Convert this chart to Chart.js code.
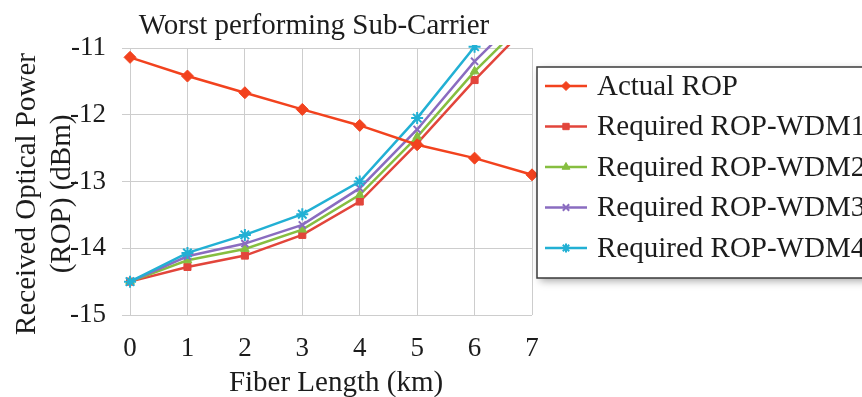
<!DOCTYPE html>
<html><head><meta charset="utf-8">
<script src="https://cdn.jsdelivr.net/npm/chart.js@4.4.1/dist/chart.umd.min.js"></script>
<style>html,body{margin:0;padding:0;background:#fff;overflow:hidden}#wrap{width:862px;height:397px;position:relative}</style>
</head><body><div id="wrap"><canvas id="c" width="862" height="397"></canvas></div>
<script>
// ---- data ----
const fiberLength = [0, 1, 2, 3, 4, 5, 6, 7];
const xTickValues = [0, 1, 2, 3, 4, 5, 6, 7];
const yTickValues = [-15, -14, -13, -12, -11];
const seriesLabels = ['Actual ROP', 'Required ROP-WDM1', 'Required ROP-WDM2', 'Required ROP-WDM3', 'Required ROP-WDM4'];
const actualROP = [-11.14, -11.42, -11.67, -11.92, -12.16, -12.45, -12.65, -12.9];
const requiredWDM1 = [-14.5, -14.28, -14.11, -13.8, -13.3, -12.43, -11.48, -10.6];
const requiredWDM2 = [-14.5, -14.18, -14.01, -13.72, -13.2, -12.33, -11.35, -10.5];
const requiredWDM3 = [-14.5, -14.12, -13.93, -13.65, -13.1, -12.22, -11.2, -10.35];
const requiredWDM4 = [-14.5, -14.07, -13.8, -13.49, -13.0, -12.05, -10.98, -9.9];
const chartTitle = 'Worst performing Sub-Carrier';
const xTitle = 'Fiber Length (km)';
const yTitleLines = ['Received Optical Power', '(ROP) (dBm)'];

// ---- styles ----
const colors = ['#f2421e', '#e2453b', '#86be40', '#8a6cc0', '#22b0d4'];
const pointStyles = ['rectRot', 'rect', 'triangle', 'crossRot', 'star'];
const pointRadii = [6, 5, 5, 5, 6];
const SERIF = '"Liberation Serif", "Times New Roman", serif';
const TEXT = '#1c1c1c';
const GRID = '#cdcdcd';

const seriesValues = [actualROP, requiredWDM1, requiredWDM2, requiredWDM3, requiredWDM4];
const datasets = seriesValues.map((vals, i) => ({
  label: seriesLabels[i],
  data: fiberLength.map((x, j) => ({x: x, y: vals[j]})),
  borderColor: colors[i],
  backgroundColor: colors[i],
  pointBackgroundColor: colors[i],
  pointBorderColor: colors[i],
  pointStyle: pointStyles[i],
  pointRadius: pointRadii[i],
  pointBorderWidth: (pointStyles[i] === 'crossRot' || pointStyles[i] === 'star') ? 2 : 1,
  borderWidth: 2.5,
  tension: 0,
  clip: {left: 10, right: 10, top: 3, bottom: 10},
  order: i === 0 ? 0 : 5 - i
}));

const decor = {
  id: 'decor',
  afterDraw(chart) {
    const ctx = chart.ctx;
    ctx.save();
    ctx.fillStyle = TEXT;
    // title
    ctx.font = '29px ' + SERIF;
    ctx.textAlign = 'center';
    ctx.textBaseline = 'alphabetic';
    ctx.fillText(chartTitle, 314, 34);
    // x title
    ctx.font = '29px ' + SERIF;
    ctx.fillText(xTitle, 336, 391);
    // y title
    ctx.save();
    ctx.translate(35, 194);
    ctx.rotate(-Math.PI / 2);
    ctx.fillText(yTitleLines[0], 0, 0);
    ctx.restore();
    ctx.save();
    ctx.translate(70, 194);
    ctx.rotate(-Math.PI / 2);
    ctx.fillText(yTitleLines[1], 0, 0);
    ctx.restore();
    // legend box
    const bx = 537, by = 67, bw = 400, bh = 211;
    ctx.save();
    ctx.shadowColor = 'rgba(0,0,0,0.35)';
    ctx.shadowBlur = 8;
    ctx.shadowOffsetX = 3;
    ctx.shadowOffsetY = 3;
    ctx.fillStyle = '#ffffff';
    ctx.fillRect(bx, by, bw, bh);
    ctx.restore();
    ctx.strokeStyle = '#3a3a3a';
    ctx.lineWidth = 1.5;
    ctx.strokeRect(bx, by, bw, bh);
    // legend items
    ctx.font = '29px ' + SERIF;
    ctx.textAlign = 'left';
    ctx.textBaseline = 'middle';
    chart.data.datasets.forEach((ds, i) => {
      const y = 86 + i * 40.5;
      ctx.strokeStyle = ds.borderColor;
      ctx.fillStyle = ds.borderColor;
      ctx.lineWidth = 2.5;
      ctx.beginPath();
      ctx.moveTo(545, y);
      ctx.lineTo(587, y);
      ctx.stroke();
      if (Chart.helpers && Chart.helpers.drawPoint) {
        ctx.lineWidth = ds.pointBorderWidth;
        Chart.helpers.drawPoint(ctx, {pointStyle: ds.pointStyle, radius: 4.5, rotation: 0, borderWidth: ds.pointBorderWidth}, 566, y);
      }
      ctx.fillStyle = TEXT;
      ctx.fillText(ds.label, 597, y + 1);
    });
    ctx.restore();
  }
};

new Chart(document.getElementById('c'), {
  type: 'line',
  data: {datasets: datasets},
  options: {
    responsive: false,
    animation: false,
    devicePixelRatio: 1,
    layout: {padding: {left: 0, top: 48, right: 330, bottom: 0}},
    plugins: {legend: {display: false}, tooltip: {enabled: false}, title: {display: false}},
    scales: {
      x: {
        type: 'linear', min: -0.14, max: 7,
        afterFit(s) { s.height = 82; },
        afterBuildTicks(s) { s.ticks = xTickValues.map(v => ({value: v})); },
        ticks: {font: {family: SERIF, size: 27}, color: TEXT, padding: 18, maxRotation: 0, autoSkip: false},
        grid: {color: GRID, lineWidth: 1, drawTicks: false},
        border: {display: false}
      },
      y: {
        type: 'linear', min: -15, max: -11,
        afterFit(s) { s.width = 122; },
        afterBuildTicks(s) { s.ticks = yTickValues.map(v => ({value: v})); },
        ticks: {font: {family: SERIF, size: 27}, color: TEXT, padding: 16},
        grid: {color: GRID, lineWidth: 1, drawTicks: false},
        border: {display: false}
      }
    }
  },
  plugins: [decor]
});
</script></body></html>
